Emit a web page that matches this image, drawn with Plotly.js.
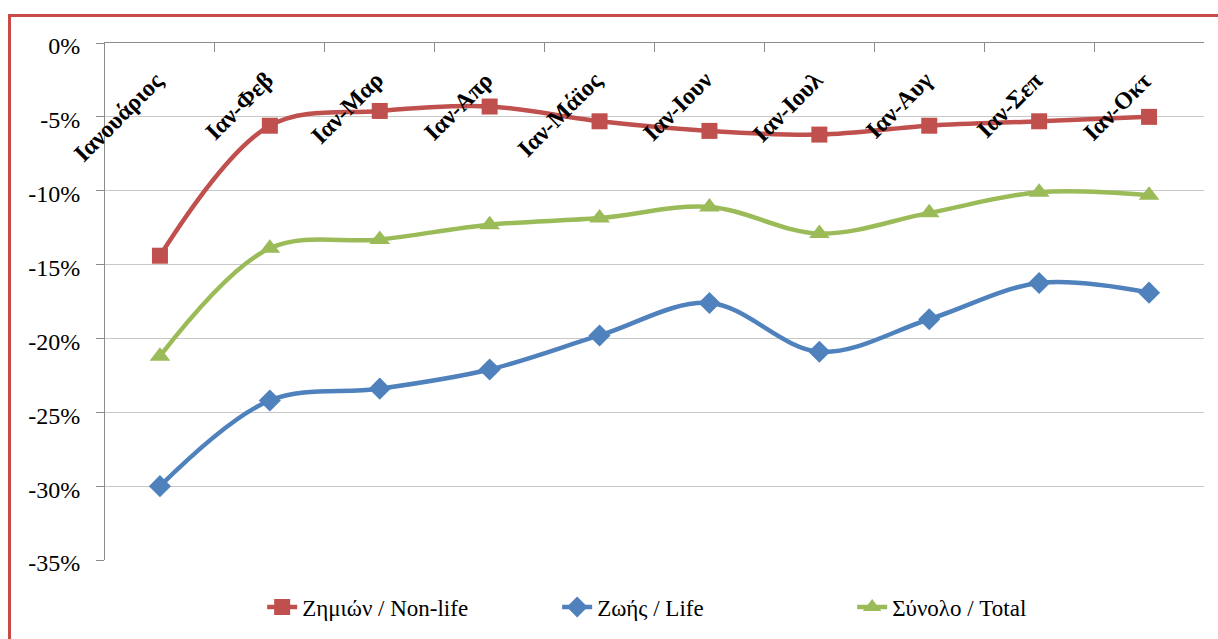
<!DOCTYPE html>
<html><head><meta charset="utf-8">
<script src="https://cdn.plot.ly/plotly-3.0.1.min.js"></script>
<style>
html,body{margin:0;padding:0;background:#fff;overflow:hidden;width:1218px;height:639px;}
#chart{position:absolute;left:0;top:0;width:1218px;height:639px;}
#frame{position:absolute;left:8px;top:14px;width:1240px;height:680px;border:3px solid #c94a47;box-sizing:border-box;pointer-events:none;}
</style></head><body>
<div id="chart"></div><div id="frame"></div>
<script>
const categories = ["Ιανουάριος","Ιαν-Φεβ","Ιαν-Μαρ","Ιαν-Απρ","Ιαν-Μάϊος","Ιαν-Ιουν","Ιαν-Ιουλ","Ιαν-Αυγ","Ιαν-Σεπ","Ιαν-Οκτ"];
const nonLife = [-14.4,-5.6,-4.6,-4.3,-5.3,-5.95,-6.2,-5.6,-5.3,-5.0];
const life    = [-30.0,-24.2,-23.4,-22.1,-19.8,-17.6,-20.9,-18.7,-16.25,-16.9];
const total   = [-21.2,-13.9,-13.3,-12.3,-11.85,-11.1,-12.9,-11.5,-10.1,-10.3];
const seriesNames = ["Ζημιών / Non-life","Ζωής / Life","Σύνολο / Total"];
const yTickVals = [0,-5,-10,-15,-20,-25,-30,-35];
const yTickText = ["0%","-5%","-10%","-15%","-20%","-25%","-30%","-35%"];

const serif = "Liberation Serif, Times New Roman, serif";
function tr(y, name, color, symbol, size){
  return {x: categories, y: y, name: name, type:'scatter', mode:'lines+markers',
    line:{color: color, width:4.5, shape:'spline', smoothing:1},
    marker:{color: color, symbol: symbol, size: size}, hoverinfo:'skip'};
}
const data = [
  tr(nonLife, seriesNames[0], '#c0504d', 'square', 16),
  tr(life, seriesNames[1], '#4f81bd', 'diamond', 17),
  tr(total, seriesNames[2], '#9bbb59', 'triangle-up', 18)
];
const annotations = categories.map(c => ({
  x: c, xref:'x', y:1, yref:'paper', yshift:-21, xshift:11,
  text: '<b>'+c+'</b>', showarrow:false, textangle:-45,
  xanchor:'right', yanchor:'top',
  font:{family: serif, size:24, color:'#000'}
}));
const layout = {
  width:1218, height:639,
  margin:{l:105, r:14, t:43, b:79, pad:0, autoexpand:false},
  paper_bgcolor:'rgba(0,0,0,0)', plot_bgcolor:'#fff',
  font:{family: serif, color:'#000'},
  showlegend:true,
  legend:{orientation:'h', x:0.143, xanchor:'left', y:-0.091, yanchor:'middle',
    entrywidth:250, entrywidthmode:'pixels',
    font:{family: serif, size:23, color:'#000'}, traceorder:'normal'},
  xaxis:{type:'category', side:'top', range:[-0.5,9.5], showgrid:false, automargin:false,
    showline:true, linecolor:'#8c8c8c', linewidth:1, ticks:'inside', ticklen:9,
    tickcolor:'#8c8c8c', tickson:'boundaries', showticklabels:false, zeroline:false, fixedrange:true},
  yaxis:{range:[-35,0], tickvals:yTickVals, ticktext:yTickText, showgrid:true, automargin:false,
    gridcolor:'#c8c8c8', gridwidth:1, showline:true, linecolor:'#8c8c8c', linewidth:1,
    ticks:'outside', ticklen:8, tickcolor:'#8c8c8c', zeroline:false,
    ticklabelstandoff:11, ticklabelshift:3,
    tickfont:{family: serif, size:24, color:'#000'}, fixedrange:true},
  annotations: annotations
};
Plotly.newPlot('chart', data, layout, {displayModeBar:false, staticPlot:true});
</script>
</body></html>
